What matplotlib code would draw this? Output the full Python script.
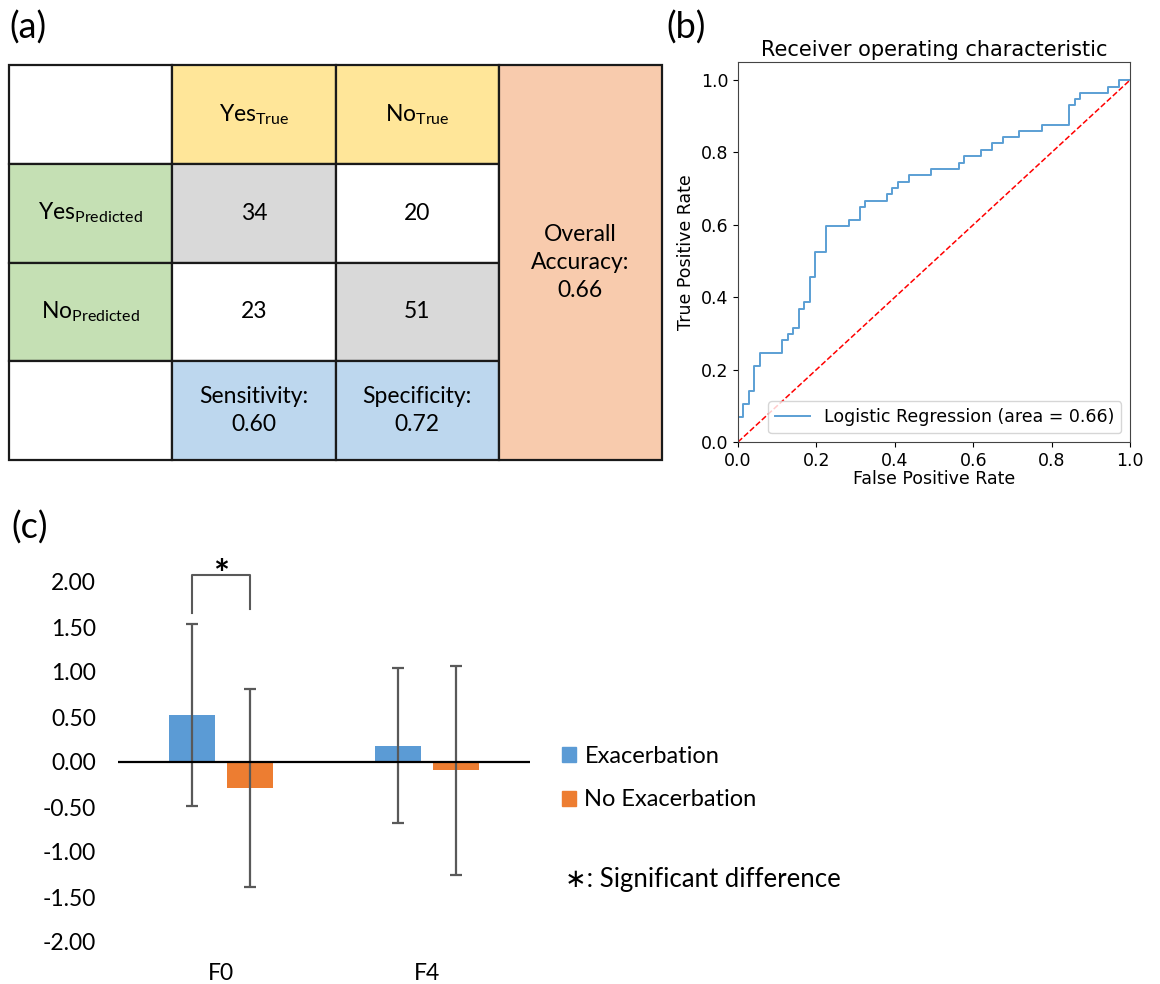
import matplotlib
matplotlib.use('Agg')
import matplotlib.pyplot as plt
from matplotlib.patches import Rectangle, Patch

plt.rcParams['axes.unicode_minus'] = False
plt.rcParams['mathtext.fontset'] = 'custom'
plt.rcParams['mathtext.rm'] = 'Lato'
plt.rcParams['mathtext.it'] = 'Lato:italic'

W, H = 1160, 984

# ---- data ----
# (a) confusion table
col_labels = [r'$\mathrm{Yes}_{\mathrm{True}}$', r'$\mathrm{No}_{\mathrm{True}}$']
row_labels = [r'$\mathrm{Yes}_{\mathrm{Predicted}}$', r'$\mathrm{No}_{\mathrm{Predicted}}$']
counts = [[34, 20], [23, 51]]
sensitivity = 0.60
specificity = 0.72
accuracy = 0.66

# (b) ROC curve corners
fpr = [0.0, 0.0, 0.014, 0.028, 0.042, 0.056, 0.113, 0.127, 0.141, 0.155, 0.169,
       0.183, 0.197, 0.225, 0.282, 0.310, 0.324, 0.380, 0.394, 0.408, 0.437,
       0.493, 0.563, 0.577, 0.620, 0.648, 0.676, 0.718, 0.775, 0.845, 0.859,
       0.873, 0.944, 0.972, 1.0]
tpr = [0.0, 0.070, 0.105, 0.140, 0.211, 0.246, 0.281, 0.298, 0.316, 0.368, 0.386,
       0.456, 0.526, 0.596, 0.614, 0.649, 0.667, 0.684, 0.702, 0.719, 0.737,
       0.754, 0.772, 0.789, 0.807, 0.825, 0.842, 0.860, 0.877, 0.930, 0.947,
       0.965, 0.982, 1.0, 1.0]
roc_auc = 0.66

# (c) bar chart
features = ['F0', 'F4']
exac_mean = [0.52, 0.18]
exac_err = [1.01, 0.86]
noexac_mean = [-0.29, -0.09]
noexac_err = [1.10, 1.16]

fig = plt.figure(figsize=(W / 100, H / 100), dpi=100)


def px_axes(x0, y0, x1, y1):
    return fig.add_axes([x0 / W, 1 - y1 / H, (x1 - x0) / W, (y1 - y0) / H])


LATO = ['Lato', 'DejaVu Sans']

# ---- (a) ----
fig.text(9 / W, 1 - 28 / H, '(a)', family=LATO, fontsize=26, va='center', ha='left')
ax_t = px_axes(9, 65, 662, 460)
ax_t.set_xlim(0, 4)
ax_t.set_ylim(4, 0)
ax_t.axis('off')

yellow, green, gray = '#FFE699', '#C5E0B4', '#D9D9D9'
blue, orange = '#BDD7EE', '#F8CBAD'
cell_colors = [['white', yellow, yellow],
               [green, gray, 'white'],
               [green, 'white', gray],
               ['white', blue, blue]]
for r in range(4):
    for c in range(3):
        ax_t.add_patch(Rectangle((c, r), 1, 1, facecolor=cell_colors[r][c],
                                 edgecolor='#1a1a1a', lw=1.6, clip_on=False))
ax_t.add_patch(Rectangle((3, 0), 1, 4, facecolor=orange, edgecolor='#1a1a1a',
                         lw=1.6, clip_on=False))

fs = 16.5
for c, lab in enumerate(col_labels):
    ax_t.text(c + 1.5, 0.5, lab, ha='center', va='center', fontsize=fs)
for r, lab in enumerate(row_labels):
    ax_t.text(0.5, r + 1.5, lab, ha='center', va='center', fontsize=fs)
for r in range(2):
    for c in range(2):
        ax_t.text(c + 1.5, r + 1.5, str(counts[r][c]), ha='center', va='center',
                  fontsize=fs, family=LATO)
ax_t.text(1.5, 3.5, 'Sensitivity:\n%.2f' % sensitivity, ha='center', va='center',
          fontsize=fs, family=LATO, linespacing=1.4)
ax_t.text(2.5, 3.5, 'Specificity:\n%.2f' % specificity, ha='center', va='center',
          fontsize=fs, family=LATO, linespacing=1.4)
ax_t.text(3.5, 2.0, 'Overall\nAccuracy:\n%.2f' % accuracy, ha='center', va='center',
          fontsize=fs, family=LATO, linespacing=1.4)

# ---- (b) ----
fig.text(666 / W, 1 - 28 / H, '(b)', family=LATO, fontsize=26, va='center', ha='left')
ax_r = px_axes(738, 62, 1130, 442)
ax_r.plot(fpr, tpr, drawstyle='steps-post', color='#5b9fd4', lw=1.4,
          label='Logistic Regression (area = %0.2f)' % roc_auc)
ax_r.plot([0, 1], [0, 1], 'r--', lw=1.1)
ax_r.set_xlim(0.0, 1.0)
ax_r.set_ylim(0.0, 1.05)
ax_r.tick_params(labelsize=12.5)
ax_r.set_xlabel('False Positive Rate', fontsize=12.5, labelpad=0)
ax_r.set_ylabel('True Positive Rate', fontsize=12.5)
ax_r.set_title('Receiver operating characteristic', fontsize=15, pad=4)
ax_r.legend(loc='lower right', fontsize=12.5)
for s in ax_r.spines.values():
    s.set_color('#444444')

# ---- (c) ----
fig.text(11 / W, 1 - 528 / H, '(c)', family=LATO, fontsize=26, va='center', ha='left')
ax_b = px_axes(118, 582, 530, 942)
x = list(range(len(features)))
bw = 0.223
off = 0.143
ekw = dict(ecolor='#595959', elinewidth=1.6, capsize=4.5, capthick=1.6)
ax_b.bar([i - off for i in x], exac_mean, bw, yerr=exac_err, color='#5B9BD5',
         label='Exacerbation', error_kw=ekw)
ax_b.bar([i + off for i in x], noexac_mean, bw, yerr=noexac_err, color='#ED7D31',
         label='No Exacerbation', error_kw=ekw)
ax_b.axhline(0, color='black', lw=1.6)
ax_b.set_xlim(-0.5, 1.5)
ax_b.set_ylim(-2, 2)
ax_b.set_yticks([2, 1.5, 1, 0.5, 0, -0.5, -1, -1.5, -2])
ax_b.set_yticklabels(['%.2f' % v for v in ax_b.get_yticks()], family=LATO, fontsize=16.5)
ax_b.set_xticks(x)
ax_b.set_xticklabels(features, family=LATO, fontsize=16.5)
ax_b.tick_params(length=0)
ax_b.tick_params(axis='y', pad=16)
ax_b.tick_params(axis='x', pad=15)
for s in ax_b.spines.values():
    s.set_visible(False)

# significance bracket
ax_b.plot([-off, -off, off, off], [1.66, 2.08, 2.08, 1.70], color='#595959',
          lw=1.5, clip_on=False)
ax_b.text(0, 1.88, '*', ha='center', va='bottom', fontsize=27, fontweight='bold',
          family=LATO)

handles = [Patch(color='#5B9BD5', label='Exacerbation'),
           Patch(color='#ED7D31', label='No Exacerbation')]
fig.legend(handles=handles, loc='upper left', bbox_to_anchor=(562 / W, 1 - 746 / H),
           frameon=False, prop={'family': 'Lato', 'size': 17}, handlelength=0.6,
           handleheight=0.6, handletextpad=0.35, labelspacing=0.95,
           borderpad=0, borderaxespad=0)
fig.text(565 / W, 1 - 880 / H, '\u2217: Significant difference', family=LATO,
         fontsize=18.5, va='center', ha='left')

fig.savefig('out.png', dpi=100)
